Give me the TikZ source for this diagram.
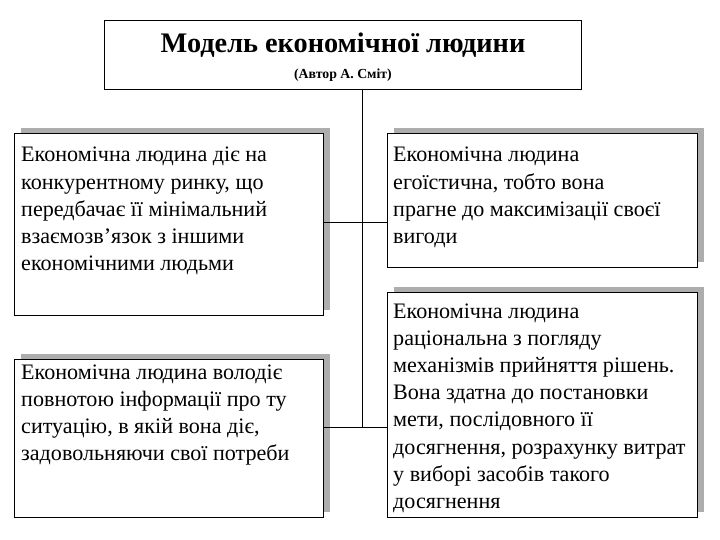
\documentclass[tikz,border=0pt]{standalone}
\usepackage{fontspec}
\setmainfont{Liberation Serif}
\usetikzlibrary{calc,shadows}
\begin{document}
\begin{tikzpicture}[x=1pt,y=-1pt,
  frame/.style={draw=black, line width=1.2pt, fill=white, rectangle, inner sep=0pt, anchor=north west},
  card/.style={frame, drop shadow={shadow xshift=6pt, shadow yshift=6pt, fill=black!32, opacity=1}},
  txt/.style={inner sep=0pt, anchor=base west, font=\fontsize{22.1}{27.2}\selectfont},
  link/.style={draw=black, line width=1pt}]
\useasboundingbox (0,0) rectangle (720,540);
\node[frame, minimum width=477pt, minimum height=69pt] (title) at (104,20) {};
\node[inner sep=0pt, anchor=base, font=\fontsize{28.3}{32}\selectfont\bfseries] (tt) at (343,53) {Модель економічної людини};
\node[inner sep=0pt, anchor=base, font=\fontsize{13.8}{16}\selectfont\bfseries] (ts) at (343,79) {(Автор А. Сміт)};
\node[card, minimum width=309pt, minimum height=182pt] (b1) at (14,133) {};
\node[card, minimum width=310pt, minimum height=134pt] (b2) at (387,133) {};
\node[card, minimum width=309pt, minimum height=158pt] (b3) at (14,359) {};
\node[card, minimum width=310pt, minimum height=225pt] (b4) at (387,292) {};
\node[txt] (t1) at (21,162) {\parbox[t]{340pt}{\raggedright Економічна людина діє на\\конкурентному ринку, що\\передбачає її мінімальний\\взаємозв’язок з іншими\\економічними людьми}};
\node[txt] (t2) at (393,162) {\parbox[t]{340pt}{\raggedright Економічна людина\\егоїстична, тобто вона\\прагне до максимізації своєї\\вигоди}};
\node[txt] (t3) at (21,379) {\parbox[t]{340pt}{\raggedright Економічна людина володіє\\повнотою інформації про ту\\ситуацію, в якій вона діє,\\задовольняючи свої потреби}};
\node[txt] (t4) at (393,318) {\parbox[t]{340pt}{\raggedright Економічна людина\\раціональна з погляду\\механізмів прийняття рішень.\\Вона здатна до постановки\\мети, послідовного її\\досягнення, розрахунку витрат\\у виборі засобів такого\\досягнення}};
\coordinate (top) at (362,89);
\coordinate (j1) at (362,223);
\coordinate (j2) at (362,427);
\draw[link] (top) -- (j2);
\draw[link] (b1.east |- j1) -- (b2.west |- j1);
\draw[link] (b3.east |- j2) -- (b4.west |- j2);
\end{tikzpicture}
\end{document}
